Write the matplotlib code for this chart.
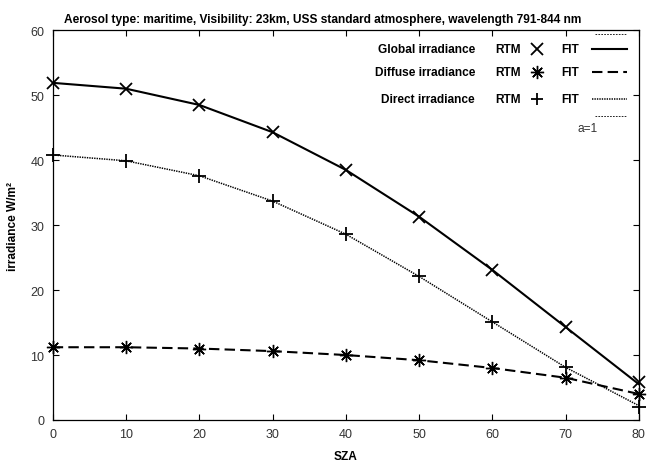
import matplotlib
matplotlib.use("Agg")
import matplotlib.pyplot as plt
from matplotlib.lines import Line2D

# --- Data ---
sza = [0, 10, 20, 30, 40, 50, 60, 70, 80]

global_rtm  = [51.9, 51.0, 48.5, 44.3, 38.5, 31.3, 23.1, 14.3, 5.8]
diffuse_rtm = [11.2, 11.2, 11.0, 10.6, 10.0, 9.2, 8.0, 6.4, 4.0]
direct_rtm  = [40.8, 39.9, 37.6, 33.7, 28.6, 22.1, 15.1, 8.1, 2.0]

global_fit  = [51.9, 51.0, 48.5, 44.3, 38.5, 31.3, 23.1, 14.3, 5.5]
diffuse_fit = [11.2, 11.2, 11.0, 10.6, 10.0, 9.2, 8.0, 6.5, 4.0]
direct_fit  = [40.8, 39.9, 37.6, 33.7, 28.6, 22.1, 15.1, 8.1, 2.2]

x_ticks = [0, 10, 20, 30, 40, 50, 60, 70, 80]
y_ticks = [0, 10, 20, 30, 40, 50, 60]

TITLE = "Aerosol type: maritime, Visibility: 23km, USS standard atmosphere, wavelength 791-844 nm"

FONT = "Liberation Sans"
ASTERISK = (8, 2, 0)

DASHED = (0, (5, 2.5))
DOTTED = (0, (0.9, 0.7))

MS     = 8.5
MEW    = 1.3
MS_AST = 9.5
MEW_AST = 1.0
FS_T = 8.6
FS   = 8.6

plt.rcParams["font.family"] = FONT

fig = plt.figure(figsize=(6.47, 4.64), dpi=100)
ax = fig.add_axes([0.0815, 0.0927, 0.906, 0.840])

# fit curves
ax.plot(sza, global_fit, color="black", lw=1.5, ls="-")
ax.plot(sza, diffuse_fit, color="black", lw=1.5, ls=DASHED)
ax.plot(sza, direct_fit, color="black", lw=1.1, ls=DOTTED)

# RTM points
ax.plot(sza, global_rtm, ls="none", marker="x", ms=MS, mew=MEW, color="black",
        clip_on=False)
ax.plot(sza, diffuse_rtm, ls="none", marker=ASTERISK, ms=MS_AST, mew=MEW_AST,
        color="black", clip_on=False)
ax.plot(sza, direct_rtm, ls="none", marker="+", ms=MS + 1, mew=MEW, color="black",
        clip_on=False)

ax.set_xlim(0, 80)
ax.set_ylim(0, 60)
ax.set_xticks(x_ticks)
ax.set_yticks(y_ticks)
ax.tick_params(direction="in", top=True, right=True, length=4, width=0.8,
               labelsize=9, pad=6, colors="black")
ax.tick_params(axis="both", labelcolor="#333333")
for sp in ax.spines.values():
    sp.set_linewidth(0.9)

# title is centred on the figure, not on the axes
ax.set_title(TITLE, fontsize=FS_T, fontweight="bold", pad=6, x=0.461)
ax.set_xlabel("SZA", fontsize=FS, fontweight="bold", labelpad=7)
ax.set_ylabel("irradiance W/m²", fontsize=FS, fontweight="bold", labelpad=8)

# --- hand-built gnuplot style key (pixel positions -> axes fraction) ---
X0, X1, Y0, Y1 = 52.7, 639.0, 421.0, 31.0


def ax_xy(px, py):
    return (px - X0) / (X1 - X0), (Y0 - py) / (Y0 - Y1)


def key_line(px0, px1, py, **kw):
    a = ax_xy(px0, py)
    b = ax_xy(px1, py)
    ax.add_line(Line2D([a[0], b[0]], [a[1], b[1]], transform=ax.transAxes,
                       color="black", clip_on=False, **kw))


rows = [
    ("Global irradiance", 50, "x", "-", 1.5, MS, MEW),
    ("Diffuse irradiance", 73, ASTERISK, DASHED, 1.5, MS_AST, MEW_AST),
    ("Direct irradiance", 100, "+", DOTTED, 1.1, MS, MEW),
]
txt = dict(transform=ax.transAxes, fontsize=FS, fontweight="bold", va="center")
for label, py, mk, ls, lw, ms, mew in rows:
    ax.text(*ax_xy(475, py), label, ha="right", **txt)
    ax.text(*ax_xy(495, py), "RTM", ha="left", **txt)
    mx, my = ax_xy(537, py)
    ax.plot([mx], [my], marker=mk, ms=ms, mew=mew, color="black",
            transform=ax.transAxes, clip_on=False)
    ax.text(*ax_xy(561, py), "FIT", ha="left", **txt)
    key_line(592, 627, py, lw=lw, ls=ls)

# unlabeled entry at top and the a=1 entry
key_line(595, 627, 35, lw=0.6, ls=(0, (2, 1.5)))
key_line(595, 627, 117, lw=0.6, ls=(0, (2, 1.5)))
ax.text(*ax_xy(588, 129), "a=1", transform=ax.transAxes, fontsize=FS,
        color="#333333", ha="center", va="center")

fig.savefig("out.png", dpi=100)
